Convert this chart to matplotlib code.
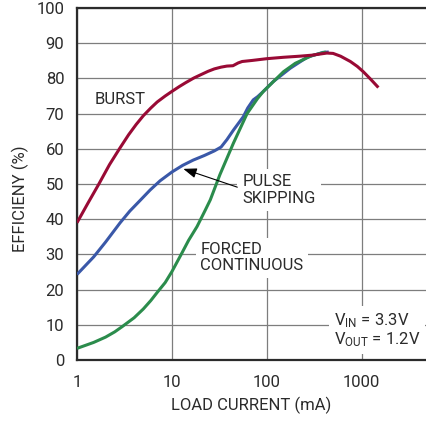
import matplotlib
matplotlib.use("Agg")
import matplotlib.pyplot as plt

# Efficiency vs load current, three operating modes
burst_ma = [1, 1.3, 1.7, 2.2, 2.8, 3.5, 4.2, 5, 6, 7, 8.5, 10, 12, 14, 17, 20,
            24, 28, 33, 38, 44, 50, 55, 70, 100, 150, 220, 300, 430, 500, 600,
            760, 900, 1040, 1250, 1500]
burst_eff = [39, 44.5, 50, 55.5, 60, 64, 66.9, 69.4, 71.6, 73.3, 75.0, 76.3,
             77.7, 78.8, 80.1, 81.0, 82.0, 82.7, 83.2, 83.5, 83.6, 84.4, 84.8,
             85.1, 85.6, 86.0, 86.3, 86.6, 87.2, 87.1, 86.3, 84.8, 83.4, 81.9,
             79.7, 77.4]

pulse_ma = [1, 1.5, 2, 2.85, 3.6, 4.5, 5.9, 7.5, 10, 13, 16.8, 22, 28, 33,
            38, 44.5, 56.5, 63, 72, 80, 92, 117, 177, 266, 392, 450]
pulse_eff = [24.3, 29.3, 33.5, 39, 42.3, 45.0, 48.3, 50.9, 53.4, 55.3, 56.8,
             58.1, 59.4, 60.5, 62.6, 65.3, 69.1, 71.6, 73.9, 74.8, 76.3, 79.1,
             82.9, 86.0, 87.4, 87.5]

forced_ma = [1, 1.5, 2, 2.5, 3, 4, 5, 6, 7, 8.5, 10, 12.7, 15, 18.4, 22.5,
             25.4, 32, 44.5, 62, 80, 92, 150, 200, 300, 420]
forced_eff = [3.3, 5.0, 6.5, 8.0, 9.5, 12.0, 14.5, 16.9, 19.2, 22.0, 25.1,
              30.3, 34.0, 37.9, 42.6, 45.5, 52.6, 61.6, 70.0, 74.3, 76.3, 81.9,
              84.3, 86.5, 87.5]

x_ticks = [1, 10, 100, 1000]
x_tick_labels = ["1", "10", "100", "1000"]
y_ticks = list(range(0, 101, 10))

RED = "#990a35"
BLUE = "#3a58a8"
GREEN = "#2b8c4c"
INK = "#2b2b2b"

FONT = ["Roboto", "DejaVu Sans"]
plt.rcParams["font.family"] = FONT
plt.rcParams["mathtext.fontset"] = "custom"
plt.rcParams["mathtext.rm"] = "Roboto"
plt.rcParams["mathtext.it"] = "Roboto"
FS = 12

fig = plt.figure(figsize=(4.27, 4.21), dpi=100)
ax = fig.add_axes([77 / 427, 61 / 421, 350 / 427, 352 / 421])
ax.set_xscale("log")
ax.set_xlim(1, 4880)
ax.set_ylim(0, 100)
ax.set_axisbelow(True)

ax.set_xticks(x_ticks)
ax.set_xticklabels(x_tick_labels)
ax.xaxis.set_minor_locator(matplotlib.ticker.NullLocator())
ax.set_yticks(y_ticks)
ax.tick_params(length=0, labelsize=FS, colors=INK)
ax.tick_params(axis="x", pad=11)
ax.tick_params(axis="y", pad=9)
ax.grid(True, color="#7d7d7d", linewidth=0.9)

for side in ("left", "bottom", "top"):
    ax.spines[side].set_color(INK)
    ax.spines[side].set_linewidth(1.6)
ax.spines["right"].set_visible(False)

ax.plot(pulse_ma, pulse_eff, color=BLUE, lw=2.2, zorder=3,
        solid_capstyle="butt", solid_joinstyle="round")
ax.plot(forced_ma, forced_eff, color=GREEN, lw=2.2, zorder=3.1,
        solid_capstyle="butt", solid_joinstyle="round")
ax.plot(burst_ma, burst_eff, color=RED, lw=2.2, zorder=3.2,
        solid_capstyle="butt", solid_joinstyle="round")

white = dict(facecolor="white", edgecolor="none")

ax.text(1.55, 73.9, "BURST", fontsize=FS, color=INK, va="center", ha="left")

ax.text(55.4, 48.3, "PULSE\nSKIPPING", fontsize=FS, color=INK, va="center",
        ha="left", linespacing=1.15, zorder=1,
        bbox=dict(boxstyle="square,pad=0.3", **white))
ax.annotate("", xy=(13.2, 54.3), xytext=(48.9, 49.1), zorder=4,
            arrowprops=dict(arrowstyle="-|>,head_length=0.8,head_width=0.3",
                            color="black", lw=0.8, shrinkA=0, shrinkB=0))

ax.text(19.9, 29.1, "FORCED\nCONTINUOUS", fontsize=FS, color=INK,
        va="center", ha="left", linespacing=1.15, zorder=1,
        bbox=dict(boxstyle="square,pad=0.25", **white))

ax.text(506, 8.5, "V$_{\\rm IN}$ = 3.3V\nV$_{\\rm OUT}$ = 1.2V", fontsize=FS,
        color=INK, va="center", ha="left", linespacing=1.0, zorder=1,
        bbox=dict(boxstyle="square,pad=0.3", **white))

fig.text(20 / 427, 1 - 199 / 421, "EFFICIENY (%)", rotation=90, fontsize=FS,
         color=INK, ha="center", va="center")
fig.text(251 / 427, 1 - 405 / 421, "LOAD CURRENT (mA)", fontsize=FS,
         color=INK, ha="center", va="center")

fig.savefig("out.png", dpi=100, facecolor="white")
